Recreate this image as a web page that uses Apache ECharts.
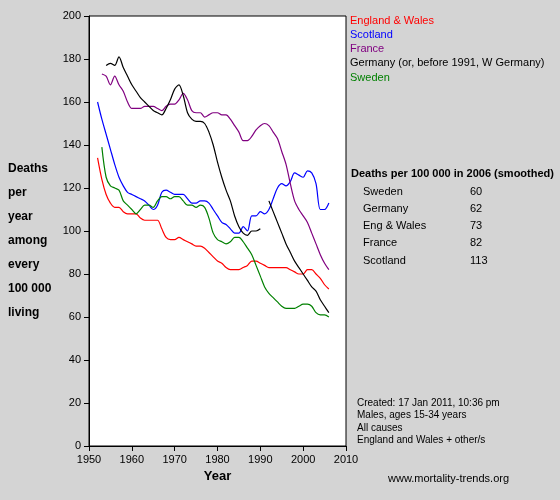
<!DOCTYPE html>
<html>
<head>
<meta charset="utf-8">
<script src="https://cdn.jsdelivr.net/npm/echarts@6/dist/echarts.min.js"></script>
<style>
  html, body { margin: 0; padding: 0; background: #d4d4d4; }
  #chart { width: 560px; height: 500px; }
</style>
</head>
<body>
<div id="chart"></div>
<script>
const engWales = [[1952,134],[1953,124],[1954,117],[1955,113],[1956,111],[1957,111],[1958,109],[1959,108],[1960,108],[1961,108],[1962,106],[1963,105],[1964,105],[1965,105],[1966,105],[1967,101],[1968,97],[1969,96],[1970,96],[1971,97],[1972,96],[1973,95],[1974,94],[1975,93],[1976,93],[1977,92],[1978,90],[1979,88],[1980,86],[1981,85],[1982,83],[1983,82],[1984,82],[1985,82],[1986,83],[1987,84],[1988,86],[1989,86],[1990,85],[1991,84],[1992,83],[1993,83],[1994,83],[1995,83],[1996,83],[1997,82],[1998,81],[1999,80],[2000,80],[2001,82],[2002,82],[2003,80],[2004,78],[2005,75],[2006,73]];
const scotland = [[1952,160],[1953,152],[1954,145],[1955,138],[1956,131],[1957,125],[1958,121],[1959,118],[1960,117],[1961,116],[1962,115],[1963,114],[1964,112],[1965,110],[1966,112],[1967,118],[1968,119],[1969,118],[1970,117],[1971,117],[1972,117],[1973,115],[1974,113],[1975,113],[1976,114],[1977,114],[1978,113],[1979,110],[1980,107],[1981,104],[1982,103],[1983,101],[1984,99],[1985,99],[1986,102],[1987,100],[1988,107],[1989,107],[1990,109],[1991,108],[1992,110],[1993,115],[1994,120],[1995,122],[1996,121],[1997,123],[1998,127],[1999,126],[2000,125],[2001,128],[2002,127],[2003,122],[2004,110],[2005,110],[2006,113]];
const france = [[1953,173],[1954,172],[1955,168],[1956,172],[1957,168],[1958,165],[1959,160],[1960,157],[1961,157],[1962,157],[1963,158],[1964,158],[1965,158],[1966,157],[1967,156],[1968,158],[1969,159],[1970,159],[1971,161],[1972,164],[1973,161],[1974,156],[1975,155],[1976,155],[1977,153],[1978,154],[1979,155],[1980,155],[1981,154],[1982,154],[1983,152],[1984,149],[1985,146],[1986,142],[1987,142],[1988,144],[1989,147],[1990,149],[1991,150],[1992,149],[1993,146],[1994,143],[1995,137],[1996,131],[1997,122],[1998,114],[1999,110],[2000,107],[2001,104],[2002,99],[2003,94],[2004,89],[2005,85],[2006,82]];
const germany = [[1954,177],[1955,178],[1956,177],[1957,181],[1958,176],[1959,172],[1960,168],[1961,165],[1962,162],[1963,160],[1964,158],[1965,156],[1966,155],[1967,154],[1968,157],[1969,161],[1970,166],[1971,168],[1972,163],[1973,155],[1974,152],[1975,151],[1976,151],[1977,150],[1978,146],[1979,140],[1980,132],[1981,125],[1982,119],[1983,114],[1984,107],[1985,102],[1986,99],[1987,98],[1988,100],[1989,100],[1990,101],[1991,null],[1992,114],[1993,109],[1994,104],[1995,99],[1996,94],[1997,90],[1998,86],[1999,83],[2000,80],[2001,77],[2002,74],[2003,72],[2004,68],[2005,65],[2006,62]];
const sweden = [[1953,139],[1954,125],[1955,121],[1956,120],[1957,119],[1958,114],[1959,112],[1960,110],[1961,108],[1962,110],[1963,112],[1964,112],[1965,111],[1966,114],[1967,116],[1968,116],[1969,115],[1970,116],[1971,116],[1972,114],[1973,112],[1974,112],[1975,111],[1976,112],[1977,111],[1978,106],[1979,99],[1980,96],[1981,95],[1982,94],[1983,95],[1984,97],[1985,97],[1986,95],[1987,92],[1988,89],[1989,84],[1990,79],[1991,74],[1992,71],[1993,69],[1994,67],[1995,65],[1996,64],[1997,64],[1998,64],[1999,65],[2000,66],[2001,66],[2002,65],[2003,62],[2004,61],[2005,61],[2006,60]];

const legendNames = ['England & Wales', 'Scotland', 'France', 'Germany (or, before 1991, W Germany)', 'Sweden'];
const legendColors = ['#ff0000', '#0000ff', '#800080', '#000000', '#008000'];
const tableNames = ['Sweden', 'Germany', 'Eng & Wales', 'France', 'Scotland'];
const tableValues = [60, 62, 73, 82, 113];
const notes = ['Created: 17 Jan 2011, 10:36 pm', 'Males, ages 15-34 years', 'All causes', 'England and Wales + other/s'];

const chart = echarts.init(document.getElementById('chart'));
const font = 'Arial, "Liberation Sans", sans-serif';
const seriesData = [engWales, scotland, france, germany, sweden];

const graphics = [];
legendNames.forEach((n, i) => {
  graphics.push({ type: 'text', left: 350, top: 15 + i * 14.3,
    style: { text: n, fill: legendColors[i], font: '11px ' + font } });
});
graphics.push({ type: 'text', left: 351, top: 168,
  style: { text: 'Deaths per 100 000 in 2006 (smoothed)', fill: '#000', font: 'bold 11px ' + font } });
tableNames.forEach((n, i) => {
  graphics.push({ type: 'text', left: 363, top: 186 + i * 17.3,
    style: { text: n, fill: '#000', font: '11px ' + font } });
  graphics.push({ type: 'text', left: 470, top: 186 + i * 17.3,
    style: { text: String(tableValues[i]), fill: '#000', font: '11px ' + font, align: 'right' } });
});
graphics.push({ type: 'text', left: 357, top: 397,
  style: { text: notes.join('\n'), fill: '#000', font: '10px ' + font, lineHeight: 12.3 } });
graphics.push({ type: 'text', left: 388, top: 473,
  style: { text: 'www.mortality-trends.org', fill: '#000', font: '11px ' + font } });
graphics.push({ type: 'text', left: 8, top: 157,
  style: { text: 'Deaths\nper\nyear\namong\nevery\n100 000\nliving', fill: '#000', font: 'bold 12px ' + font, lineHeight: 24 } });

chart.setOption({
  animation: false,
  backgroundColor: '#d4d4d4',
  grid: { left: 89, right: 214, top: 16, bottom: 54, show: true, backgroundColor: '#fff', borderColor: '#000', borderWidth: 1 },
  xAxis: {
    type: 'value', min: 1950, max: 2010, interval: 10,
    name: 'Year', nameLocation: 'middle', nameGap: 24,
    nameTextStyle: { fontWeight: 'bold', fontSize: 13, color: '#000', fontFamily: font },
    axisLine: { lineStyle: { color: '#000' } },
    axisTick: { lineStyle: { color: '#000' } },
    axisLabel: { color: '#000', fontSize: 11, fontFamily: font, formatter: v => String(v) },
    splitLine: { show: false }
  },
  yAxis: {
    type: 'value', min: 0, max: 200, interval: 20,
    axisLine: { show: true, lineStyle: { color: '#000' } },
    axisTick: { show: true, lineStyle: { color: '#000' } },
    axisLabel: { color: '#000', fontSize: 11, fontFamily: font },
    splitLine: { show: false }
  },
  series: seriesData.map((d, i) => ({
    type: 'line', data: d, showSymbol: false, smooth: 0.3, connectNulls: false,
    lineStyle: { color: legendColors[i], width: 1.2 }, itemStyle: { color: legendColors[i] }
  })),
  graphic: graphics
});
</script>
</body>
</html>
